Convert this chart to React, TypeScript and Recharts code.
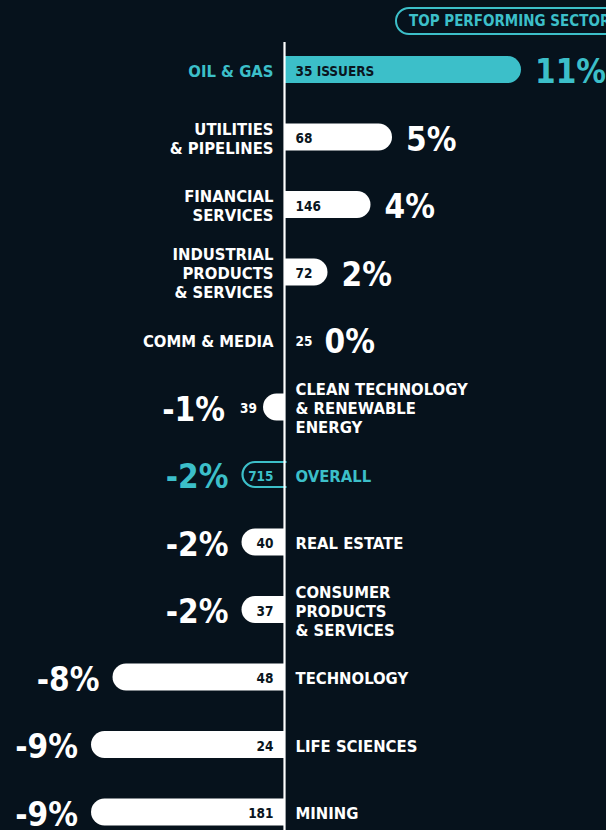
import React from 'react';
import { BarChart, Bar, XAxis, YAxis, ReferenceLine, LabelList } from 'recharts';

const sectors: string[][] = [
  ['OIL & GAS'],
  ['UTILITIES', '& PIPELINES'],
  ['FINANCIAL', 'SERVICES'],
  ['INDUSTRIAL', 'PRODUCTS', '& SERVICES'],
  ['COMM & MEDIA'],
  ['CLEAN TECHNOLOGY', '& RENEWABLE', 'ENERGY'],
  ['OVERALL'],
  ['REAL ESTATE'],
  ['CONSUMER', 'PRODUCTS', '& SERVICES'],
  ['TECHNOLOGY'],
  ['LIFE SCIENCES'],
  ['MINING'],
];
const returns: number[] = [11, 5, 4, 2, 0, -1, -2, -2, -2, -8, -9, -9];
const issuers: string[] = ['35 ISSUERS', '68', '146', '72', '25', '39', '715', '40', '37', '48', '24', '181'];
const highlight: string[] = ['top', '', '', '', '', '', 'overall', '', '', '', '', ''];

const BG = '#06121c';
const TEAL = '#3cbfc9';
const WHITE = '#ffffff';
const DARK = '#0a1520';
const FONT = "'DejaVu Sans Condensed', 'DejaVu Sans', sans-serif";

const data = sectors.map((s, i) => ({
  name: s.join(' '),
  lines: s,
  value: returns[i],
  count: issuers[i],
  kind: highlight[i],
}));

const BarShape = (props: any) => {
  const { x, y, width, height, payload } = props;
  if (!width || Math.abs(width) < 0.5) return null;
  const L = Math.min(x, x + width);
  const R = Math.max(x, x + width);
  const T = y;
  const B = y + height;
  const r = height / 2;
  const neg = payload.value < 0;
  let d: string;
  if (!neg) {
    d = `M${L},${T} H${R - r} A${r},${r} 0 0 1 ${R - r},${B} H${L} Z`;
  } else {
    d = `M${R},${T} H${L + r} A${r},${r} 0 0 0 ${L + r},${B} H${R} Z`;
  }
  if (payload.kind === 'overall') {
    const i = 1;
    const rr = r - i;
    const d2 = `M${R + 2},${T + i} H${L + r} A${rr},${rr} 0 0 0 ${L + r},${B - i} H${R + 2}`;
    return <path d={d2} fill={BG} stroke={TEAL} strokeWidth={2.2} />;
  }
  return <path d={d} fill={payload.kind === 'top' ? TEAL : WHITE} />;
};

const Labels = (props: any) => {
  const vb = props.viewBox || props;
  const idx = props.index;
  const item = data[idx];
  const x = vb.x;
  const w = vb.width || 0;
  const y = vb.y;
  const h = vb.height;
  const cy = y + h / 2;
  const L = Math.min(x, x + w);
  const R = Math.max(x, x + w);
  const neg = item.value < 0;
  const zero = neg ? R : L;
  const barW = R - L;
  const accent = item.kind === 'top' || item.kind === 'overall';
  const catColor = accent ? TEAL : WHITE;
  const pctColor = accent ? TEAL : WHITE;

  let countX: number;
  let countAnchor: 'start' | 'end';
  let countColor: string;
  let pctX: number;
  let pctAnchor: 'start' | 'end';
  if (!neg) {
    countX = zero + 11;
    countAnchor = 'start';
    pctAnchor = 'start';
    if (barW < 1) {
      countColor = WHITE;
      pctX = zero + 40;
    } else {
      countColor = DARK;
      pctX = R + 14;
    }
  } else {
    pctAnchor = 'end';
    if (barW < 30) {
      countX = L - 6;
      countAnchor = 'end';
      countColor = WHITE;
      pctX = L - 38;
    } else {
      countX = zero - 11;
      countAnchor = 'end';
      countColor = item.kind === 'overall' ? TEAL : DARK;
      pctX = L - 13;
    }
  }

  const catX = neg ? zero + 11 : zero - 11;
  const catAnchor = neg ? 'start' : 'end';
  const n = item.lines.length;
  const lh = 19;

  return (
    <g style={{ fontStretch: 'condensed' }}>
      <text
        x={countX}
        y={cy + 1}
        textAnchor={countAnchor}
        dominantBaseline="central"
        fontFamily={FONT}
        fontWeight="bold"
        fontSize={13.5}
        fill={countColor}
      >
        {item.count}
      </text>
      <text
        x={pctX}
        y={cy + 2}
        textAnchor={pctAnchor}
        dominantBaseline="central"
        fontFamily={FONT}
        fontWeight="bold"
        fontSize={33}
        fill={pctColor}
      >
        {`${item.value}%`}
      </text>
      {item.lines.map((ln, k) => (
        <text
          key={k}
          x={catX}
          y={cy + 1.5 + (k - (n - 1) / 2) * lh}
          textAnchor={catAnchor}
          dominantBaseline="central"
          fontFamily={FONT}
          fontWeight="bold"
          fontSize={16.5}
          fill={catColor}
        >
          {ln}
        </text>
      ))}
    </g>
  );
};

const AxisLine = (props: any) => {
  const { x1, y1, x2, y2 } = props;
  if (x1 == null) return null;
  return <line x1={x1} x2={x2} y1={Math.min(y1, y2) + 6} y2={Math.max(y1, y2)} stroke={WHITE} strokeWidth={2.2} />;
};

export default function App() {
  return (
    <div
      style={{
        position: 'absolute',
        left: 0,
        top: 0,
        width: 606,
        height: 830,
        overflow: 'hidden',
        background: BG,
        fontFamily: FONT,
      }}
    >
      <BarChart
        width={606}
        height={846}
        data={data}
        layout="vertical"
        margin={{ top: 36, right: 0, bottom: 0, left: 0 }}
        barCategoryGap={0}
      >
        <XAxis type="number" domain={[-13.233, 14.953]} hide allowDataOverflow />
        <YAxis type="category" dataKey="name" hide />
        <Bar dataKey="value" barSize={27} shape={<BarShape />} isAnimationActive={false}>
          <LabelList dataKey="value" content={<Labels />} />
        </Bar>
        <ReferenceLine x={0} stroke={WHITE} strokeWidth={2.2} shape={<AxisLine />} />
      </BarChart>
      <div
        style={{
          position: 'absolute',
          left: 395,
          top: 7,
          width: 240,
          height: 24,
          border: `2.5px solid ${TEAL}`,
          borderRadius: 15,
          color: TEAL,
          fontWeight: 'bold',
          fontSize: 15,
          lineHeight: '24px',
          paddingLeft: 12,
          whiteSpace: 'nowrap',
          fontStretch: 'condensed',
          boxSizing: 'content-box',
        }}
      >
        TOP PERFORMING SECTOR
      </div>
    </div>
  );
}
